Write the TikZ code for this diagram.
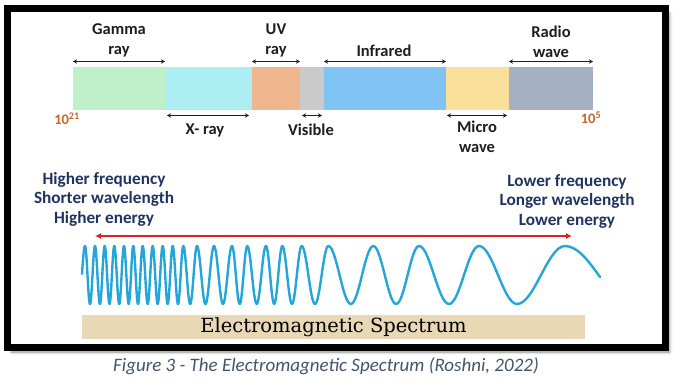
\documentclass[tikz,border=0pt]{standalone}
\usepackage{fontspec}
\setmainfont{Carlito}
\newfontfamily\slabfont{DejaVu Serif}
\usetikzlibrary{arrows.meta, positioning, shadows.blur}
\definecolor{gammaGreen}{RGB}{192,240,202}
\definecolor{xrayCyan}{RGB}{172,238,243}
\definecolor{uvSalmon}{RGB}{240,182,142}
\definecolor{visibleGray}{RGB}{202,202,202}
\definecolor{infraBlue}{RGB}{128,196,245}
\definecolor{microYellow}{RGB}{250,224,152}
\definecolor{radioSlate}{RGB}{166,176,196}
\definecolor{labelText}{RGB}{30,30,30}
\definecolor{navyText}{RGB}{31,52,96}
\definecolor{powerOrange}{RGB}{196,102,42}
\definecolor{spanRed}{RGB}{222,34,34}
\definecolor{waveBlue}{RGB}{38,166,216}
\definecolor{bannerBeige}{RGB}{232,216,182}
\definecolor{captionGray}{RGB}{68,84,106}
\tikzset{
    band/.style={
        rectangle,
        inner sep=0pt,
        outer sep=0pt,
        minimum height=43pt
    },
    rangearrow/.style={{Stealth[length=4pt,width=4.5pt]}-{Stealth[length=4pt,width=4.5pt]}, line width=1pt, draw=labelText},
    spanarrow/.style={{Latex[length=6pt,width=6pt]}-{Latex[length=6pt,width=6pt]}, line width=1.2pt, draw=spanRed},
    bandlabel/.style={font=\fontsize{16.5}{20}\selectfont\bfseries, text=labelText, align=center, inner sep=0pt},
    powerlabel/.style={font=\fontsize{14.5}{16}\selectfont\bfseries, text=powerOrange, inner sep=0pt},
    trendtext/.style={font=\fontsize{17.2}{19.5}\selectfont\bfseries, text=navyText, align=center, inner sep=0pt},
    wave/.style={draw=waveBlue, line width=2.4pt, line join=round, line cap=round},
    banner/.style={rectangle, fill=bannerBeige, minimum width=503pt, minimum height=24pt, inner sep=0pt, font=\slabfont\fontsize{19.5}{20}\selectfont, text=black}
}

\begin{document}
\begin{tikzpicture}[x=1pt, y=-1pt]
    \useasboundingbox (0,0) rectangle (681,389);
    % frame with shadow
    \path[fill=white, draw=black, line width=7pt, blur shadow={shadow xshift=4pt, shadow yshift=-5pt, shadow blur radius=3pt, shadow opacity=45}]
        (7.5,8.5) rectangle (665.5,347);

    % spectrum bar
    \node[band, fill=gammaGreen, minimum width=92pt, anchor=west] (gamma) at (73,88.5) {};
    \node[band, fill=xrayCyan, minimum width=87pt, right=0pt of gamma] (xray) {};
    \node[band, fill=uvSalmon, minimum width=48pt, right=0pt of xray] (uv) {};
    \node[band, fill=visibleGray, minimum width=24pt, right=0pt of uv] (visible) {};
    \node[band, fill=infraBlue, minimum width=122pt, right=0pt of visible] (infra) {};
    \node[band, fill=microYellow, minimum width=63pt, right=0pt of infra] (micro) {};
    \node[band, fill=radioSlate, minimum width=84pt, right=0pt of micro] (radio) {};

    % ranges
    \draw[rangearrow] ([yshift=5.5pt]gamma.north west) -- ([yshift=5.5pt]gamma.north east);
    \draw[rangearrow] ([yshift=5.5pt]uv.north west) -- ([yshift=5.5pt]uv.north east);
    \draw[rangearrow] ([yshift=5.5pt]infra.north west) -- ([yshift=5.5pt]infra.north east);
    \draw[rangearrow] ([yshift=5.5pt]radio.north west) -- ([yshift=5.5pt]radio.north east);
    \draw[rangearrow] ([xshift=2pt,yshift=-5.5pt]xray.south west) -- ([xshift=-3pt,yshift=-5.5pt]xray.south east);
    \draw[rangearrow] ([xshift=2pt,yshift=-5.5pt]visible.south west) -- ([xshift=-2pt,yshift=-5.5pt]visible.south east);
    \draw[rangearrow] ([xshift=1pt,yshift=-5.5pt]micro.south west) -- ([xshift=-2pt,yshift=-5.5pt]micro.south east);

    \node[bandlabel] (gammaLbl) at (119,40) {Gamma\\ray};
    \node[bandlabel] (uvLbl) at (276,40) {UV\\ray};
    \node[bandlabel] (infraLbl) at (384,51) {Infrared};
    \node[bandlabel] (radioLbl) at (551,42) {Radio\\wave};
    \node[bandlabel] (xrayLbl) at (205,130) {X- ray};
    \node[bandlabel] (visibleLbl) at (311,130) {Visible};
    \node[bandlabel] (microLbl) at (477,137) {Micro\\wave};
    \node[powerlabel] (highPow) at (67,119) {10\textsuperscript{21}};
    \node[powerlabel] (lowPow) at (591,118) {10\textsuperscript{5}};

    % trends
    \node[trendtext] (highTrend) at (104,199) {Higher frequency\\Shorter wavelength\\Higher energy};
    \node[trendtext] (lowTrend) at (567,201) {Lower frequency\\Longer wavelength\\Lower energy};
    \coordinate (hiEnd) at (95,236);
    \coordinate (loEnd) at (572,236);
    \draw[spanarrow] (hiEnd) -- (loEnd);

    % chirped wave
    \draw[wave] (82,274) sin (85,246)
        \foreach \ex [remember=\ex as \lastex (initially 85), count=\i] in
            {90,95,99.9,104.7,109.5,114.3,119.2,124,128.7,133.3,138,142.7,147.7,152.7,157.7,162.7,167.7,172.7,178,183.3,
             190.2,197,205.5,214,223,232,239.7,247.3,256.7,266,274.2,282.3,292,301.7,315,328.3,350.8,373.3,396.2,419,449,479,517,565}
        { cos ({(\lastex+\ex)/2},275) sin (\ex,{246+58*mod(\i,2)}) }
        cos (600,277);

    \node[banner] (title) at (333.5,327) {Electromagnetic Spectrum};
    \node[font=\fontsize{19}{22}\selectfont\itshape, text=captionGray, inner sep=0pt] (caption) at (326,366) {Figure 3 - The Electromagnetic Spectrum (Roshni, 2022)};
\end{tikzpicture}
\end{document}
